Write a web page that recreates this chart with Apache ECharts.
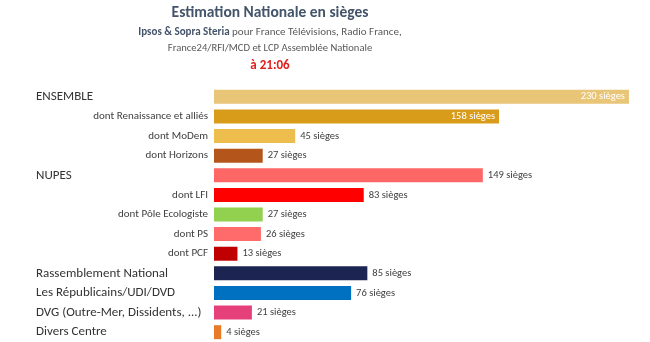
<!DOCTYPE html>
<html>
<head>
<meta charset="utf-8">
<script src="https://cdn.jsdelivr.net/npm/echarts@6/dist/echarts.min.js"></script>
<style>
  html, body { margin: 0; padding: 0; background: #fff; }
  #chart { width: 650px; height: 342px; }
</style>
</head>
<body>
<div id="chart"></div>
<script>
// Seat estimates per list (main lists and their components)
const categories = [
  'ENSEMBLE', 'dont Renaissance et alliés', 'dont MoDem', 'dont Horizons',
  'NUPES', 'dont LFI', 'dont Pôle Ecologiste', 'dont PS', 'dont PCF',
  'Rassemblement National', 'Les Républicains/UDI/DVD',
  'DVG (Outre-Mer, Dissidents, ...)', 'Divers Centre'
];
const seats = [230, 158, 45, 27, 149, 83, 27, 26, 13, 85, 76, 21, 4];
const barColors = [
  '#E9C577', '#D99C1A', '#EDBE4E', '#B4561B',
  '#FF6666', '#FF0000', '#92D050', '#FF6B6B', '#C00000',
  '#1C2551', '#0070C0', '#E6407A', '#E87A28'
];
const labelsInside = [true, true, false, false, false, false, false, false, false, false, false, false, false];

const FONT = 'Carlito, "Liberation Sans Narrow", "DejaVu Sans Condensed", "Noto Sans", sans-serif';

const chart = echarts.init(document.getElementById('chart'), null, { renderer: 'canvas' });

const barData = seats.map((v, i) => ({
  value: v,
  itemStyle: { color: barColors[i] },
  label: labelsInside[i]
    ? { position: 'insideRight', color: '#ffffff', distance: 4 }
    : { position: 'right', color: '#404040', distance: 5 }
}));

chart.setOption({
  animation: false,
  backgroundColor: '#ffffff',
  textStyle: { fontFamily: FONT },
  grid: { left: 214, right: 3, top: 87, bottom: 0, containLabel: false },
  xAxis: {
    type: 'value', min: 0, max: 240,
    show: false
  },
  yAxis: {
    type: 'category',
    data: categories,
    inverse: true,
    axisLine: { show: false },
    axisTick: { show: false },
    axisLabel: {
      margin: 6,
      fontFamily: FONT,
      formatter: (name) => name.startsWith('dont ')
        ? '{sub|' + name + '}'
        : '{main|' + name + '}',
      rich: {
        sub: { fontSize: 11, color: '#404040', fontFamily: FONT, align: 'right' },
        main: { fontSize: 13, color: '#333333', fontFamily: FONT, width: 172, align: 'left' }
      }
    }
  },
  series: [{
    type: 'bar',
    data: barData,
    barWidth: 14,
    label: {
      show: true,
      fontSize: 10.5,
      fontFamily: FONT,
      formatter: (p) => p.value + ' sièges'
    }
  }],
  graphic: [
    {
      type: 'text', x: 270, y: 13,
      style: {
        text: 'Estimation Nationale en sièges',
        fill: '#44546A', font: 'bold 15.5px ' + FONT,
        align: 'center', verticalAlign: 'middle'
      }
    },
    {
      type: 'text', x: 270, y: 32,
      style: {
        text: '{b|Ipsos & Sopra Steria}{n| pour France Télévisions, Radio France,}',
        align: 'center', verticalAlign: 'middle',
        rich: {
          b: { fontWeight: 'bold', fontSize: 11, fill: '#44546A', fontFamily: FONT },
          n: { fontSize: 11, fill: '#595959', fontFamily: FONT }
        }
      }
    },
    {
      type: 'text', x: 270, y: 48,
      style: {
        text: 'France24/RFI/MCD et LCP Assemblée Nationale',
        fill: '#595959', font: '10.6px ' + FONT,
        align: 'center', verticalAlign: 'middle'
      }
    },
    {
      type: 'text', x: 270, y: 66,
      style: {
        text: 'à 21:06',
        fill: '#E0201F', font: 'bold 13px ' + FONT,
        align: 'center', verticalAlign: 'middle'
      }
    }
  ]
});
</script>
</body>
</html>
